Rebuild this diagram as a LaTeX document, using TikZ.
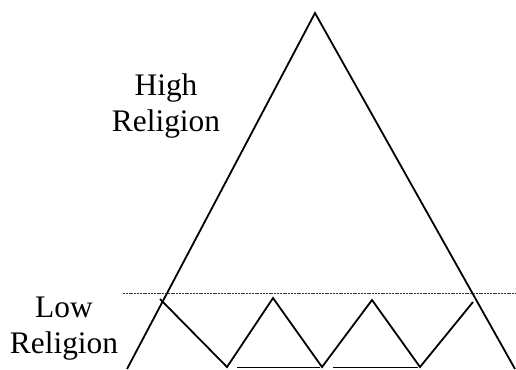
\documentclass[tikz,border=0pt]{standalone}
\usepackage{fontspec}
\setmainfont{Liberation Serif}
\usetikzlibrary{positioning}

\begin{document}
\begin{tikzpicture}[x=1bp,y=-1bp,
  edge/.style={line width=1.8bp},
  thin line/.style={line width=0.9bp},
  label/.style={font=\fontsize{31.5}{36}\selectfont,align=center,inner sep=0pt}]
  \useasboundingbox (0,0) rectangle (516,369);
  % outer triangle
  \coordinate (top) at (315,13);
  \coordinate (lfoot) at (127,369);
  \coordinate (rfoot) at (515,369);
  \draw[edge] (lfoot) -- (top) -- (rfoot);

  % the dividing line
  \coordinate (divl) at (123,293);
  \coordinate (divr) at (516,293);
  \draw[thin line,black!80,dash pattern=on 2bp off 0.8bp] (divl) -- (divr);

  % small peaks below the line
  \coordinate (z0) at (160,299);
  \coordinate (z1) at (227,367);
  \coordinate (z2) at (273,298);
  \coordinate (z3) at (322,367);
  \coordinate (z4) at (372,300);
  \coordinate (z5) at (420,367);
  \coordinate (z6) at (473,302);
  \draw[edge] (z0) -- (z1) -- (z2) -- (z3) -- (z4) -- (z5) -- (z6);
  \draw[thin line] (237,367) -- (320,367);
  \draw[thin line] (333,367) -- (418,367);

  \node[label] (high) at (166,106) {High\\Religion};
  \node[label] (low) at (64,329) {Low\\Religion};
\end{tikzpicture}
\end{document}
